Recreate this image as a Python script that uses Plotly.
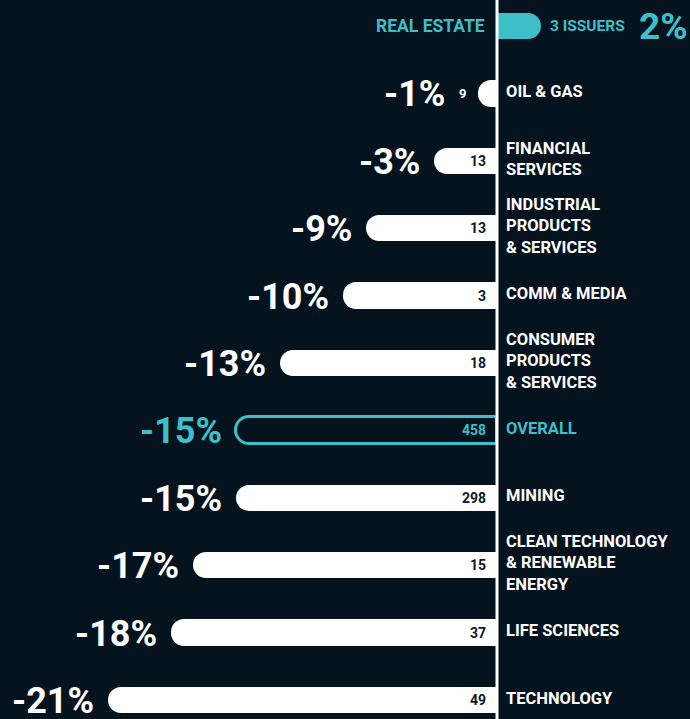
import plotly.graph_objects as go

categories = ["REAL ESTATE", "OIL & GAS", "FINANCIAL\nSERVICES", "INDUSTRIAL\nPRODUCTS\n& SERVICES",
              "COMM & MEDIA", "CONSUMER\nPRODUCTS\n& SERVICES", "OVERALL", "MINING",
              "CLEAN TECHNOLOGY\n& RENEWABLE\nENERGY", "LIFE SCIENCES", "TECHNOLOGY"]
pct_labels = ["2%", "-1%", "-3%", "-9%", "-10%", "-13%", "-15%", "-15%", "-17%", "-18%", "-21%"]
bar_values = [2.4, -1.0, -3.4, -7.1, -8.3, -11.7, -14.1, -14.1, -16.4, -17.6, -21.0]
issuers = [3, 9, 13, 13, 3, 18, 458, 298, 15, 37, 49]

BG = "#05131e"
TEAL = "#3dbfca"
WHITE = "#ffffff"
FONT = "Roboto"

n = len(categories)
ypos = list(range(n))

fill_colors = []
line_colors = []
line_widths = []
for i, c in enumerate(categories):
    if c == "REAL ESTATE":
        fill_colors.append(TEAL); line_colors.append(TEAL); line_widths.append(0)
    elif c == "OVERALL":
        fill_colors.append(BG); line_colors.append(TEAL); line_widths.append(3)
    else:
        fill_colors.append(WHITE); line_colors.append(WHITE); line_widths.append(0)

fig = go.Figure()
fig.add_trace(go.Bar(
    x=bar_values, y=ypos, orientation="h", width=0.39,
    marker=dict(color=fill_colors, line=dict(color=line_colors, width=line_widths),
                cornerradius="50%"),
    hoverinfo="skip", showlegend=False,
))

ann = []
for i, c in enumerate(categories):
    v = bar_values[i]
    if c == "REAL ESTATE":
        ann.append(dict(x=0, y=i, text=c, xanchor="right", xshift=-10, showarrow=False,
                        font=dict(family=FONT, size=17.5, color=TEAL, weight="bold")))
        ann.append(dict(x=v, y=i, text=f"{issuers[i]} ISSUERS", xanchor="left", xshift=7,
                        showarrow=False, font=dict(family=FONT, size=15.5, color=TEAL, weight="bold")))
        ann.append(dict(x=1, xref="paper", y=i, text=pct_labels[i], xanchor="right", xshift=0,
                        height=40, showarrow=False,
                        font=dict(family=FONT, size=37, color=TEAL, weight="bold")))
        continue
    col = TEAL if c == "OVERALL" else WHITE
    cnt_col = TEAL if c == "OVERALL" else "#0b1a26"
    small = abs(v) < 2
    if small:
        ann.append(dict(x=v, y=i, text=str(issuers[i]), xanchor="right", xshift=-10,
                        showarrow=False, font=dict(family=FONT, size=13, color=WHITE, weight="bold")))
        pshift = -31
    else:
        ann.append(dict(x=0, y=i, text=str(issuers[i]), xanchor="right", xshift=-9,
                        showarrow=False, font=dict(family=FONT, size=14, color=cnt_col, weight="bold")))
        pshift = -12
    ann.append(dict(x=v, y=i, text=pct_labels[i], xanchor="right", xshift=pshift, yshift=-1,
                    height=38, showarrow=False,
                    font=dict(family=FONT, size=36, color=col, weight="bold")))
    ann.append(dict(x=0, y=i, text=c.replace("\n", "<br>"), xanchor="left", xshift=7, yshift=2,
                    align="left", showarrow=False,
                    font=dict(family=FONT, size=16.5, color=col, weight="bold")))

scale = 18.52
fig.update_layout(
    width=690, height=719,
    margin=dict(l=0, r=0, t=0, b=0),
    paper_bgcolor=BG, plot_bgcolor=BG,
    xaxis=dict(range=[-497 / scale, 193 / scale], visible=False, fixedrange=True),
    yaxis=dict(range=[10 + 19 / 67.4, -26 / 67.4], visible=False, fixedrange=True),
    annotations=ann,
    shapes=[dict(type="line", x0=0, x1=0, xref="x", yref="paper", y0=0, y1=1,
                 line=dict(color=WHITE, width=3), layer="above")],
    bargap=0,
)
fig.write_html("out.html", config={"displayModeBar": False},
               post_script="document.body.style.margin='0';document.body.style.background='%s';" % BG)
